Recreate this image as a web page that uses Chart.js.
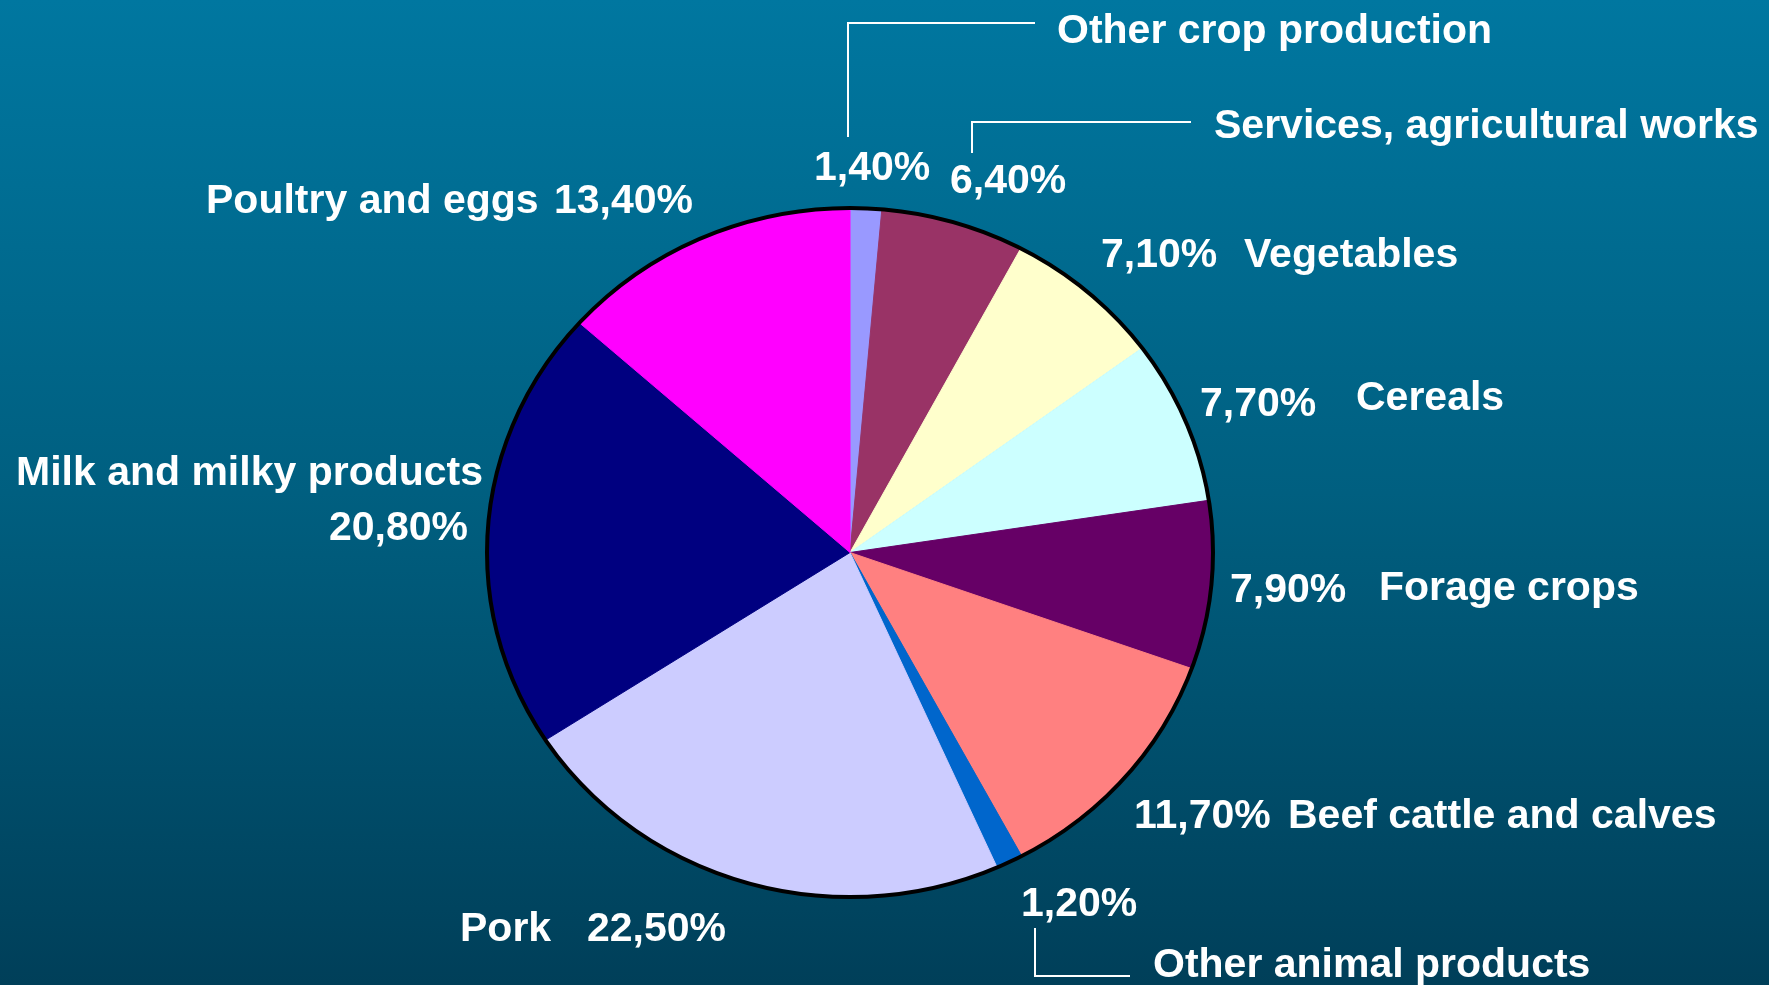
<!DOCTYPE html>
<html>
<head>
<meta charset="utf-8">
<title>Agricultural output structure</title>
<script src="https://cdn.jsdelivr.net/npm/chart.js@4/dist/chart.umd.min.js"></script>
<style>
  html, body {
    margin: 0;
    padding: 0;
    overflow: hidden;
  }
  body {
    width: 1769px;
    height: 985px;
    background: linear-gradient(to bottom, #0077a0 0%, #005f80 50%, #003f59 100%);
  }
  canvas {
    display: block;
  }
</style>
</head>
<body>
<canvas id="pie" width="1769" height="985"></canvas>
<script>
// categories, clockwise from 12 o'clock
const categories = [
    "Other crop production",
    "Services, agricultural works",
    "Vegetables",
    "Cereals",
    "Forage crops",
    "Beef cattle and calves",
    "Other animal products",
    "Pork",
    "Milk and milky products",
    "Poultry and eggs"
];
const shares = [1.4, 6.4, 7.1, 7.7, 7.9, 11.7, 1.2, 22.5, 20.8, 13.4];
const sliceColors = [
    "#9999ff", "#993366", "#ffffcc", "#ccffff", "#660066",
    "#ff8080", "#0066cc", "#ccccff", "#000080", "#ff00ff"
];

// where each name / percentage goes (left x, baseline y), plus leader lines
const labelSpots = [
    { name: [1057, 43],  value: [814, 180],  leader: [[848, 137], [848, 23], [1035, 23]] },
    { name: [1214, 138], value: [950, 193],  leader: [[972, 153], [972, 122], [1191, 122]] },
    { name: [1244, 267], value: [1101, 267] },
    { name: [1356, 410], value: [1200, 416] },
    { name: [1379, 600], value: [1230, 602] },
    { name: [1288, 828], value: [1134, 828] },
    { name: [1153, 977], value: [1021, 916], leader: [[1035, 928], [1035, 976], [1130, 976]] },
    { name: [460, 941],  value: [587, 941] },
    { name: [16, 485],   value: [329, 540] },
    { name: [206, 213],  value: [554, 213] }
];

const squash = 0.949; // pie is drawn slightly flattened
const labelFont = 'bold 41px "Liberation Sans", Arial, sans-serif';

function pct(v) {
    return v.toFixed(2).replace('.', ',') + '%';
}

const flattenPie = {
    id: 'flattenPie',
    beforeDatasetsDraw(chart) {
        const arc = chart.getDatasetMeta(0).data[0];
        const ctx = chart.ctx;
        ctx.save();
        ctx.translate(arc.x, arc.y);
        ctx.scale(1, squash);
        ctx.translate(-arc.x, -arc.y);
    },
    afterDatasetsDraw(chart) {
        const ctx = chart.ctx;
        ctx.restore();
        const arc = chart.getDatasetMeta(0).data[0];
        ctx.save();
        ctx.beginPath();
        ctx.ellipse(arc.x, arc.y, arc.outerRadius, arc.outerRadius * squash, 0, 0, Math.PI * 2);
        ctx.lineWidth = 4;
        ctx.strokeStyle = '#000';
        ctx.stroke();
        ctx.restore();
    }
};

const sliceLabels = {
    id: 'sliceLabels',
    afterDraw(chart) {
        const ctx = chart.ctx;
        ctx.save();
        ctx.font = labelFont;
        ctx.fillStyle = '#fff';
        ctx.textAlign = 'left';
        ctx.textBaseline = 'alphabetic';
        ctx.strokeStyle = '#fff';
        ctx.lineWidth = 2;
        labelSpots.forEach((spot, i) => {
            ctx.fillText(categories[i], spot.name[0], spot.name[1]);
            ctx.fillText(pct(shares[i]), spot.value[0], spot.value[1]);
            if (spot.leader) {
                ctx.beginPath();
                spot.leader.forEach((p, j) => {
                    if (j === 0) ctx.moveTo(p[0], p[1]);
                    else ctx.lineTo(p[0], p[1]);
                });
                ctx.stroke();
            }
        });
        ctx.restore();
    }
};

new Chart(document.getElementById('pie').getContext('2d'), {
    type: 'pie',
    data: {
        labels: categories,
        datasets: [{
            data: shares,
            backgroundColor: sliceColors,
            borderColor: sliceColors,
            borderWidth: 1,
            radius: 363
        }]
    },
    options: {
        responsive: false,
        animation: false,
        layout: {
            padding: { left: 487, right: 556, top: 189.5, bottom: 69.5 }
        },
        plugins: {
            legend: { display: false },
            tooltip: { enabled: false }
        }
    },
    plugins: [flattenPie, sliceLabels]
});
</script>
</body>
</html>
